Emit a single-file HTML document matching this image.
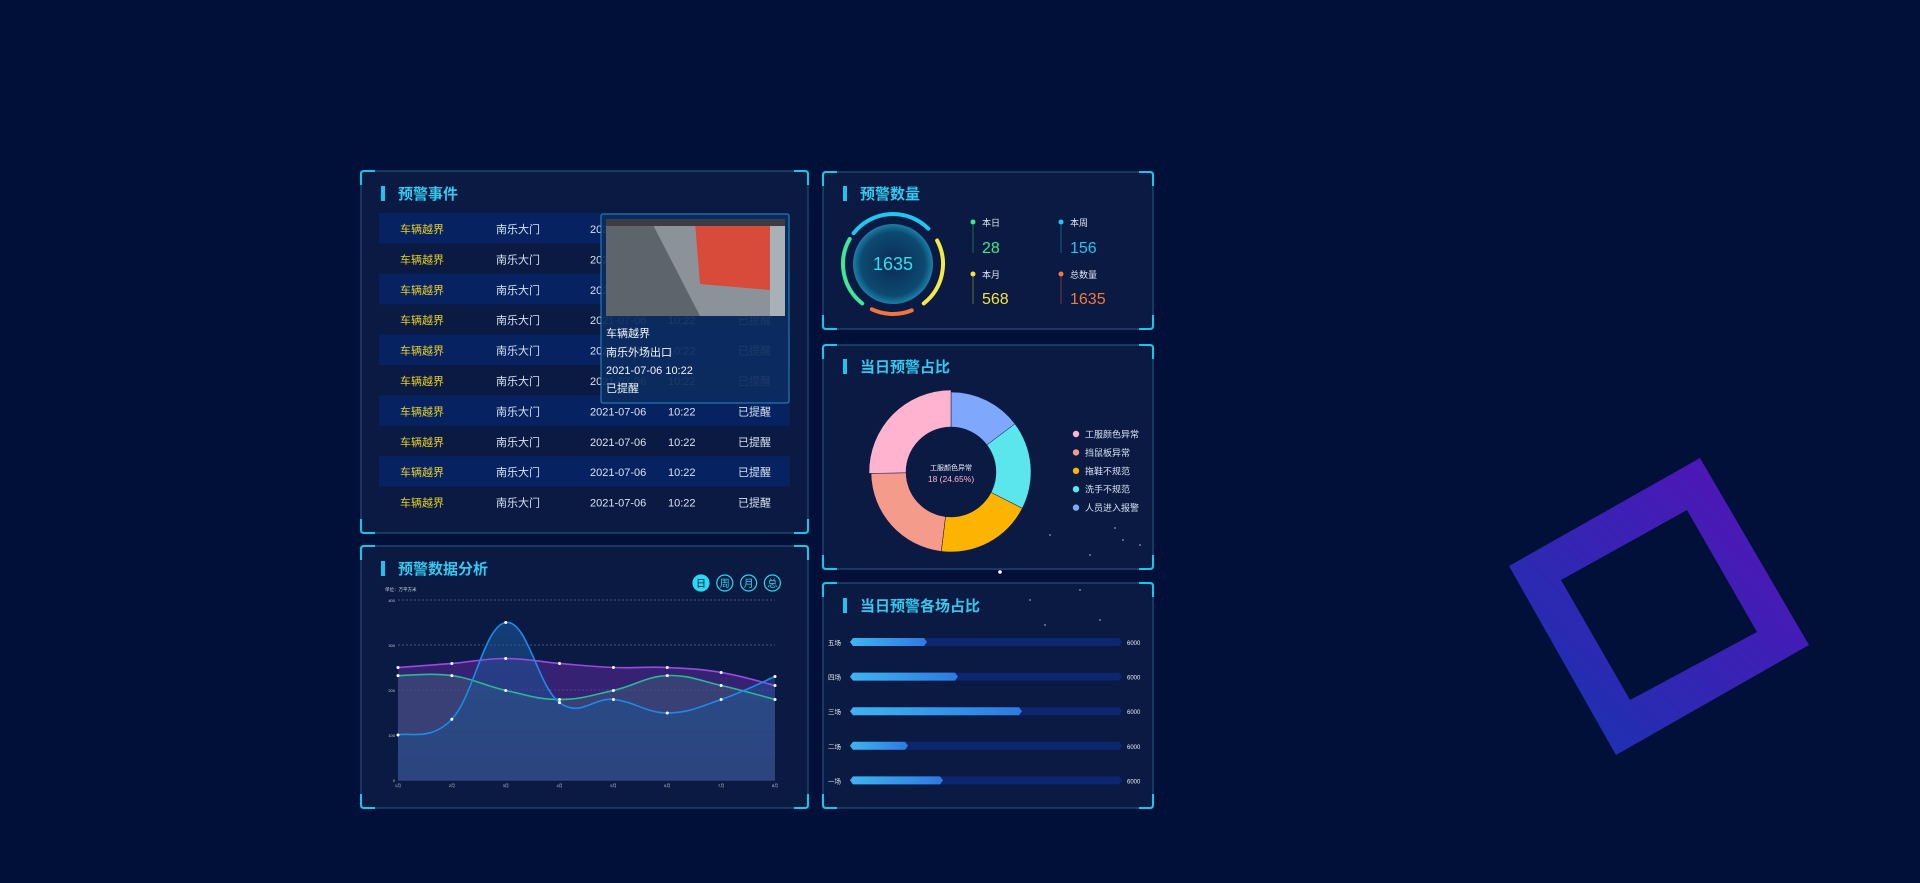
<!DOCTYPE html>
<html><head><meta charset="utf-8"><style>
html,body{margin:0;padding:0;background:#011039;width:1920px;height:883px;overflow:hidden}
svg{display:block}
text{font-family:"Liberation Sans","Noto Sans CJK SC",sans-serif}
</style></head><body>
<svg id="s" width="1920" height="883" viewBox="0 0 1920 883" xmlns="http://www.w3.org/2000/svg">
<defs>
<linearGradient id="sq" x1="0" y1="1" x2="1" y2="0"><stop offset="0" stop-color="#1436b0"/><stop offset="1" stop-color="#5a10b8"/></linearGradient>
<linearGradient id="bar" x1="0" x2="1"><stop offset="0" stop-color="#3fb4f0"/><stop offset="1" stop-color="#2d7ae0"/></linearGradient>
<radialGradient id="core" cx="0.5" cy="0.5" r="0.5"><stop offset="0" stop-color="#0a2a55"/><stop offset="0.8" stop-color="#0d4a70"/><stop offset="1" stop-color="#1a7fa8"/></radialGradient>
<linearGradient id="areaB" x1="0" y1="0" x2="0" y2="1"><stop offset="0" stop-color="#1c5aa0" stop-opacity="0.75"/><stop offset="1" stop-color="#1c4a88" stop-opacity="0.6"/></linearGradient>
</defs>
<rect width="1920" height="883" fill="#011039"/>
<!-- decorative square -->
<path fill="url(#sq)" fill-rule="evenodd" d="M1700,458 L1809,645 L1616,755 L1509,566 Z M1687,510 L1757,632 L1630,700 L1561,580 Z"/>
<g id="panels"></g>
<g id="content"></g>
</svg>
<script>
const NS="http://www.w3.org/2000/svg";
const P=document.getElementById('panels'),C=document.getElementById('content');
function el(tag,attrs,parent,txt){const e=document.createElementNS(NS,tag);for(const k in attrs)e.setAttribute(k,attrs[k]);if(txt!==undefined)e.textContent=txt;(parent||C).appendChild(e);return e;}
function panel(x,y,w,h,title,ty){
 el('rect',{x,y,width:w,height:h,rx:4,fill:'#0a1a42',stroke:'#1d4f7a','stroke-width':1.2},P);
 const c='#16c8e8',L=14;
 el('path',{d:`M${x},${y+L} L${x},${y+3} Q${x},${y} ${x+3},${y} L${x+L},${y} M${x+w-L},${y} L${x+w-3},${y} Q${x+w},${y} ${x+w},${y+3} L${x+w},${y+L} M${x+w},${y+h-L} L${x+w},${y+h-3} Q${x+w},${y+h} ${x+w-3},${y+h} L${x+w-L},${y+h} M${x+L},${y+h} L${x+3},${y+h} Q${x},${y+h} ${x},${y+h-3} L${x},${y+h-L}`,fill:'none',stroke:c,'stroke-width':2},P);
 el('rect',{x:x+20,y:ty-7,width:4,height:15,fill:'#1fc4ee'},P);
 el('text',{x:x+37,y:ty+6,fill:'#36c9f0','font-size':15,'font-weight':'bold'},P,title);
}
panel(361,171,447,362,'预警事件',193);
panel(823,172,330,157,'预警数量',193);
panel(823,345,330,224,'当日预警占比',366);
panel(361,546,447,262,'预警数据分析',568);
panel(823,583,330,225,'当日预警各场占比',605);

// table
for(let i=0;i<10;i++){
 const y=213+i*30.4;
 if(i%2==0) el('rect',{x:379,y,width:411,height:30.4,fill:'#062260'});
 const ty=y+20;
 el('text',{x:400,y:ty,fill:'#e6cf2a','font-size':11},C,'车辆越界');
 el('text',{x:496,y:ty,fill:'#d8e2f0','font-size':11},C,'南乐大门');
 el('text',{x:590,y:ty,fill:'#d8e2f0','font-size':11},C,'2021-07-06');
 el('text',{x:668,y:ty,fill:'#d8e2f0','font-size':11},C,'10:22');
 el('text',{x:738,y:ty,fill:'#d8e2f0','font-size':11},C,'已提醒');
}
// popup
el('rect',{x:601,y:214,width:188,height:189,rx:2,fill:'#0c2c60','fill-opacity':0.93,stroke:'#2a8ac0','stroke-width':1});
el('rect',{x:606,y:219,width:179,height:97,fill:'#8c929a'});
el('polygon',{points:'606,219 650,219 700,316 606,316',fill:'#5e646c'});
el('polygon',{points:'695,222 770,226 770,290 700,284',fill:'#d84a3a'});
el('rect',{x:770,y:219,width:15,height:97,fill:'#a8b0b8'});
el('rect',{x:606,y:219,width:179,height:7,fill:'#3a3e44'});
el('text',{x:606,y:337,fill:'#f0f4fa','font-size':11},C,'车辆越界');
el('text',{x:606,y:356,fill:'#f0f4fa','font-size':11},C,'南乐外场出口');
el('text',{x:606,y:374,fill:'#f0f4fa','font-size':11},C,'2021-07-06   10:22');
el('text',{x:606,y:392,fill:'#f0f4fa','font-size':11},C,'已提醒');

// gauge
const gx=893,gy=264;
el('circle',{cx:gx,cy:gy,r:40,fill:'url(#core)'});
function arc(r,a0,a1,col,w){const p=a=>[gx+r*Math.sin(a*Math.PI/180),gy-r*Math.cos(a*Math.PI/180)];const[a,b]=p(a0),[c,d]=p(a1);el('path',{d:`M${a},${b} A${r},${r} 0 0 1 ${c},${d}`,fill:'none',stroke:col,'stroke-width':w,'stroke-linecap':'round'});}
arc(50,-52,45,'#1ec8f0',4);arc(50,62,142,'#f4e94a',4);arc(50,158,205,'#f0763a',4);arc(50,218,300,'#3ee89a',4);
el('text',{x:gx,y:gy+6,fill:'#2ee0f0','font-size':18,'text-anchor':'middle'},C,'1635');
const st=[[973,'本日','28','#3ee88a',226,247],[1061,'本周','156','#22c4f0',226,247],[973,'本月','568','#f4e43a',278,298],[1061,'总数量','1635','#f07a3a',278,298]];
st.forEach(s=>{el('circle',{cx:s[0],cy:s[4]-4,r:2.5,fill:s[3]});el('line',{x1:s[0],y1:s[4]-2,x2:s[0],y2:s[5]+6,stroke:s[3],'stroke-opacity':0.4});
 el('text',{x:s[0]+9,y:s[4],fill:'#e0e8f4','font-size':9},C,s[1]);el('text',{x:s[0]+9,y:s[5]+6,fill:s[3],'font-size':16},C,s[2]);});

// donut
const dx=951,dy=472;
function seg(a0,a1,ro,ri,col){const p=(r,a)=>[dx+r*Math.sin(a*Math.PI/180),dy-r*Math.cos(a*Math.PI/180)];const L=(a1-a0)>180?1:0;const[x1,y1]=p(ro,a0),[x2,y2]=p(ro,a1),[x3,y3]=p(ri,a1),[x4,y4]=p(ri,a0);
el('path',{d:`M${x1},${y1} A${ro},${ro} 0 ${L} 1 ${x2},${y2} L${x3},${y3} A${ri},${ri} 0 ${L} 0 ${x4},${y4}Z`,fill:col,stroke:'#0a1a42','stroke-width':0.5});}
seg(0,53,80,45,'#7fa8fc');seg(53,117,80,45,'#5ae6ec');seg(117,187,80,45,'#fcb400');seg(187,269,80,45,'#f49b8c');seg(269,360,82,45,'#ffb3cf');
el('text',{x:dx,y:dy-2,fill:'#eef','font-size':7,'text-anchor':'middle'},C,'工服颜色异常');
el('text',{x:dx,y:dy+10,fill:'#ffb3cf','font-size':8.5,'text-anchor':'middle'},C,'18 (24.65%)');
[['工服颜色异常','#ffb3cf'],['挡鼠板异常','#f49b8c'],['拖鞋不规范','#fcb400'],['洗手不规范','#5ae6ec'],['人员进入报警','#7fa8fc']].forEach((l,i)=>{const y=434+i*18.4;el('circle',{cx:1076,cy:y,r:3.2,fill:l[1]});el('text',{x:1085,y:y+3.5,fill:'#d8e2f0','font-size':9},C,l[0]);});
// stars
[[1050,535],[1110,490],[1123,540],[1090,555],[1000,572],[1115,528],[1140,545],[1080,590],[1030,600],[1045,625],[1100,620]].forEach(p=>el('circle',{cx:p[0],cy:p[1],r:1,fill:'#7fb0e0','fill-opacity':0.7}));
el('circle',{cx:1000,cy:572,r:1.8,fill:'#fff'});

// bars
[['五场',927],['四场',958],['三场',1022],['二场',908],['一场',943]].forEach((b,i)=>{const y=642+i*34.6;
 el('text',{x:828,y:y+3,fill:'#e8eef8','font-size':6.5},C,b[0]);
 el('polygon',{points:`850,${y} 853,${y-4} 1119,${y-4} 1122,${y} 1119,${y+4} 853,${y+4}`,fill:'#0c2670'});
 el('polygon',{points:`850,${y} 853,${y-4} ${b[1]-3},${y-4} ${b[1]},${y} ${b[1]-3},${y+4} 853,${y+4}`,fill:'url(#bar)'});
 el('text',{x:1127,y:y+3,fill:'#e8eef8','font-size':6},C,'6000');});

// line chart
const x0=398,x1=775,yb=780,k=0.45;
for(let v=0;v<=400;v+=100){const y=yb-v*k;el('line',{x1:x0,y1:y,x2:x1,y2:y,stroke:'#5a6e90','stroke-dasharray':v?'2,2':'',"stroke-width":0.7});el('text',{x:x0-3,y:y+2,fill:'#c0c8d8','font-size':4,'text-anchor':'end'},C,String(v));}
el('text',{x:385,y:591,fill:'#d0d8e8','font-size':4.5},C,'单位：万平方米');
const xs=[...Array(8)].map((_,i)=>x0+i*(x1-x0)/7);
xs.forEach((x,i)=>el('text',{x,y:787,fill:'#c0c8d8','font-size':4,'text-anchor':'middle'},C,(i+1)+'月'));
function path(vals){const pts=vals.map((v,i)=>[xs[i],yb-v*k]);let d=`M${pts[0][0]},${pts[0][1]}`;for(let i=0;i<pts.length-1;i++){const p0=pts[i-1]||pts[i],p1=pts[i],p2=pts[i+1],p3=pts[i+2]||p2;const t=0.2;
 d+=` C${p1[0]+(p2[0]-p0[0])*t},${p1[1]+(p2[1]-p0[1])*t} ${p2[0]-(p3[0]-p1[0])*t},${p2[1]-(p3[1]-p1[1])*t} ${p2[0]},${p2[1]}`;}return[d,pts];}
const ser=[[[250,259,270,259,250,250,239,210],'#9a4ae0','#5a2a9a',0.55],[[232,232,199,179,199,232,210,179],'#2ab89a','#3a5a78',0.55],[[100,135,350,172,179,149,179,230],'#1e8ae8','url(#areaB)',0.75]];
ser.forEach(s=>{const[d,pts]=path(s[0]);el('path',{d:d+` L${x1},${yb} L${x0},${yb}Z`,fill:s[2],'fill-opacity':s[3]});});
ser.forEach(s=>{const[d,pts]=path(s[0]);el('path',{d,fill:'none',stroke:s[1],'stroke-width':1.6});pts.forEach(p=>el('circle',{cx:p[0],cy:p[1],r:1.5,fill:'#fff'}));});
// buttons
['日','周','月','总'].forEach((t,i)=>{const cx=701+i*23.8,cy=583;el('circle',{cx,cy,r:8,fill:i==0?'#2ad8f0':'none',stroke:'#2ad8f0','stroke-width':1.2});el('text',{x:cx,y:cy+4,fill:i==0?'#0a1a42':'#2ad8f0','font-size':10,'text-anchor':'middle'},C,t);});
</script>
</body></html>
